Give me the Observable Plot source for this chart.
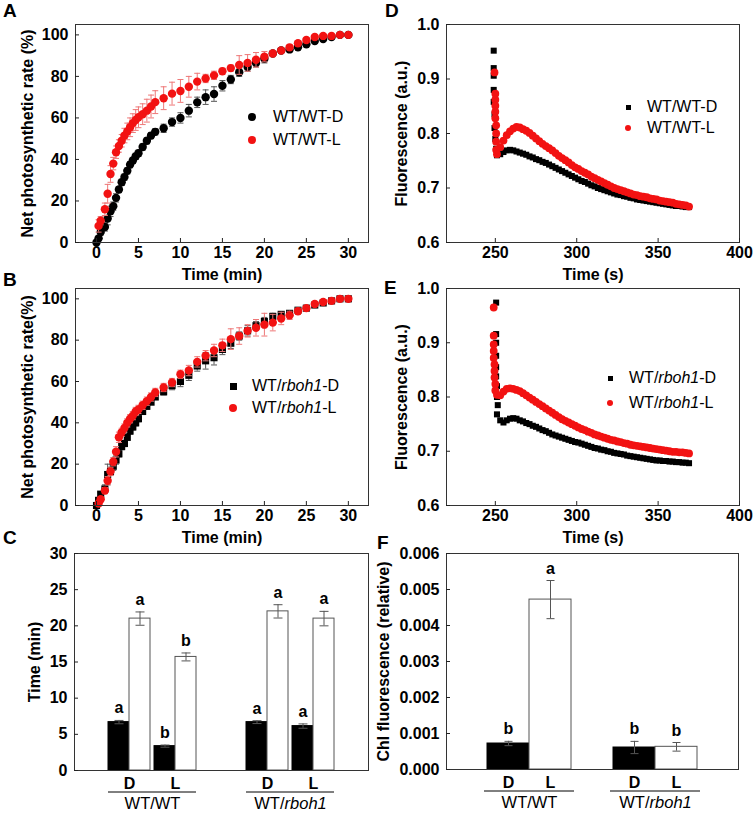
<!DOCTYPE html>
<html><head><meta charset="utf-8">
<script src="https://cdn.jsdelivr.net/npm/d3@7"></script>
<script src="https://cdn.jsdelivr.net/npm/@observablehq/plot@0.6"></script>
<style>
body{margin:0;background:#fff}
#fig{position:relative;width:754px;height:813px;font-family:"Liberation Sans",Arial,sans-serif;color:#000;overflow:hidden;background:#fff}
.panel{position:absolute}
.letter{position:absolute;font-weight:bold;font-size:19px;line-height:1}
.legtxt{position:absolute;font-size:16px;white-space:nowrap;line-height:18px}
.mk{position:absolute;box-sizing:border-box}
</style></head><body><div id="fig"></div><script>
// ---------- DATA ----------
// Panels A, B: time (min)
const timeMin = [0,0.25,0.5,1,1.33,1.67,2,2.33,2.67,3,3.33,3.67,4,4.33,4.67,5,5.5,6,6.5,7,8,9,10,11,12,13,14,15,16,17,18,19,20,21,22,23,24,25,26,27,28,29,30];
const wtwtD =    [0,2,5,7.5,11.5,15,17.5,21.5,25.5,29,31.5,34.5,37.5,39.5,41.5,43,46,49,51.5,53.3,55,58,60,63.5,67.5,70,71.5,75.5,78.5,82,84.5,86.5,88.5,91,92.5,93,94,95.5,97,98,99,100,100];
const wtwtDErr = [0.5,1,1.5,2,3,2.5,2,2,1.5,1.5,1.5,1.5,1.5,1.5,1.5,1.5,1.5,1.5,1.5,1.5,2,2,2.5,3,2.5,3.5,3.5,2.5,2,2,2,2,2,1,1,1,1,1,1,0.8,0.8,0.3,0.3];
const wtwtL =    [null,8,10.5,16,23.5,33,38,43.5,46.5,49,51.5,53.5,55.5,57.5,59,60.3,61.8,63.5,65.5,67.6,69.5,71.7,73,75,77.5,79,80.5,82.5,84,85.5,86.5,88,89.5,91,92.5,94,96,97.5,99,99.5,99.5,100,100];
const wtwtLErr = [0,3,2,3,4.5,4,3,3,3,3,3.5,4,4.5,4.5,5,5,5,5.5,5.5,5.5,5.5,5.5,5.5,5,4,2,2,1.5,1.5,4.5,4,3.5,2.5,1.5,1,1,1,1,1,0.8,0.5,0.3,0.3];
const wtrbD =    [0,2.5,5.5,8,15,16.5,19,22,25,28.5,30,33,36,38,40,42,45.5,48,50,52.5,55,58,60,63,67.5,70,71.5,75.5,78.5,82,84.5,87,89,91.5,92.5,93,94.5,95.5,97,98,99,100,100];
const wtrbDErr = [0.5,1,1,2,5,2,2,2,1.5,1.5,1.5,1.5,1.5,1.5,1.5,1.5,1.5,1.5,1,1,1.5,2,2.5,2.5,2.5,4,3.5,2.5,2.5,2,2.5,2,2,1.5,1,1,1,1,1,0.8,0.5,0.3,0.3];
const wtrbL =    [null,1,3,7.2,12,16.5,21.2,26,33,35.4,37.5,40,42,43.5,45.5,46.5,48.5,50.5,52.5,54.7,57.1,59.5,63.5,65.3,69.5,72.5,75,77.5,80.5,82,84.5,86,87.5,88.5,90.5,92,94,95.5,97.5,98.5,99,100,100];
const wtrbLErr = [0,1,1,1.5,2,2,2,2.5,2.5,2,2,2,2,2,2,2,2,2,2,2,2,2,2,2.5,2.5,2.5,3,3,5,4,3,4,5.5,4,3,2,1.5,1,1,1,0.5,0.3,0.3];

// Panels D, E: time (s)
const fluoTime = [251,253,255,257,259,261,263,265,267,269,271,273,275,277,279,281,283,285,287,289,291,293,295,297,299,301,303,305,307,309,311,313,315,317,319,321,323,325,327,329,331,333,335,337,339,341,343,345,347,349,351,353,355,357,359,361,363,365,367,369];
const dBlack = [0.760,0.762,0.766,0.769,0.770,0.769,0.767,0.765,0.763,0.761,0.758,0.756,0.753,0.751,0.748,0.746,0.743,0.740,0.737,0.734,0.731,0.728,0.725,0.722,0.719,0.716,0.713,0.711,0.708,0.705,0.703,0.700,0.698,0.696,0.694,0.692,0.690,0.688,0.687,0.685,0.684,0.682,0.681,0.679,0.678,0.677,0.676,0.675,0.674,0.673,0.672,0.671,0.670,0.669,0.668,0.667,0.667,0.666,0.665,0.665];
const dRed =   [0.762,0.775,0.787,0.797,0.804,0.809,0.812,0.811,0.808,0.805,0.801,0.796,0.791,0.786,0.781,0.777,0.773,0.769,0.764,0.759,0.755,0.751,0.747,0.742,0.738,0.735,0.731,0.728,0.725,0.721,0.718,0.715,0.712,0.709,0.706,0.703,0.700,0.698,0.696,0.694,0.692,0.690,0.688,0.687,0.685,0.684,0.683,0.681,0.680,0.679,0.677,0.676,0.675,0.674,0.673,0.671,0.670,0.669,0.668,0.666];
const eBlack = [0.768,0.757,0.753,0.757,0.760,0.761,0.760,0.757,0.755,0.752,0.750,0.747,0.745,0.742,0.739,0.737,0.734,0.731,0.729,0.727,0.725,0.723,0.721,0.719,0.717,0.716,0.714,0.712,0.710,0.708,0.706,0.705,0.703,0.702,0.700,0.699,0.697,0.696,0.695,0.694,0.692,0.691,0.690,0.689,0.688,0.687,0.686,0.685,0.684,0.683,0.683,0.682,0.682,0.681,0.681,0.680,0.680,0.679,0.679,0.678];
const eRed =   [0.804,0.803,0.810,0.815,0.816,0.815,0.813,0.811,0.807,0.803,0.799,0.795,0.791,0.787,0.783,0.779,0.775,0.771,0.767,0.763,0.759,0.756,0.753,0.750,0.747,0.744,0.741,0.739,0.736,0.734,0.731,0.729,0.727,0.725,0.723,0.721,0.720,0.718,0.717,0.715,0.714,0.712,0.711,0.710,0.709,0.708,0.707,0.706,0.705,0.704,0.703,0.702,0.701,0.700,0.699,0.699,0.698,0.698,0.697,0.696];
// initial spike (points recorded at light switch)
const dBlackSpikeT = [249,249,249,249,249,249.5,249.5,250,250.5];
const dBlackSpikeV = [0.952,0.920,0.906,0.880,0.858,0.835,0.810,0.790,0.772];
const dRedSpikeT = [249.5,250,250,250,250,250,250.5,250.5,250.5,250.5];
const dRedSpikeV = [0.912,0.873,0.862,0.851,0.840,0.828,0.815,0.800,0.785,0.770];
const eBlackSpikeT = [250.5,250.5,250.5,250.5,250.5,250.5,251,251,251.5];
const eBlackSpikeV = [0.974,0.916,0.900,0.876,0.855,0.838,0.820,0.800,0.785];
const eRedSpikeT = [249,249,249,249,249,249.5,249.5,249.5,250,250];
const eRedSpikeV = [0.965,0.913,0.897,0.885,0.872,0.860,0.848,0.836,0.824,0.812];

// Panels C, F
const genotypes = ["WT/WT", "WT/rboh1"];
const treatments = ["D", "L"];
const t50 =      [6.69, 3.37, 6.69, 6.14];   // WT/WT D, WT/WT L, WT/rboh1 D, WT/rboh1 L
const t50Err =   [0.23, 0.15, 0.20, 0.30];
const t50Sig =   ["a", "b", "a", "a"];
const t90 =      [21.0, 15.7, 22.0, 21.0];
const t90Err =   [0.92, 0.55, 0.92, 1.0];
const t90Sig =   ["a", "b", "a", "a"];
const chl =      [0.000722, 0.00472, 0.000611, 0.00063];
const chlErr =   [0.00006, 0.00053, 0.00017, 0.00012];
const chlSig =   ["b", "a", "b", "b"];

// ticks
const minTicks = [0,5,10,15,20,25,30];
const pctTicks = [0,20,40,60,80,100];
const secTicks = [250,300,350,400];
const fluoTicks = [0.6,0.7,0.8,0.9,1.0];
const tTicks = [0,5,10,15,20,25,30];
const chlTicks = [0,0.001,0.002,0.003,0.004,0.005,0.006];

// ---------- HELPERS ----------
const FONT = "'Liberation Sans', Arial, Helvetica, sans-serif";
const RED = "#f21212";
const fig = document.getElementById("fig");
const capSymbol = {draw(ctx, size) { const w = Math.sqrt(size / Math.PI); ctx.moveTo(-w, 0); ctx.lineTo(w, 0); }};
const baseStyle = {fontFamily: FONT, fontSize: "16px", fontWeight: "bold", overflow: "visible", background: "transparent", color: "#000"};

function place(el, left, top) {
  const d = document.createElement("div");
  d.className = "panel"; d.style.left = left + "px"; d.style.top = top + "px";
  d.appendChild(el); fig.appendChild(d); return el;
}
function errMarks(rows, x, y, e, color, cap, extra = {}) {
  const ok = rows.filter(r => r[y] != null && r[e] > 0);
  return [
    Plot.ruleX(ok, {x, y1: r => r[y] - r[e], y2: r => r[y] + r[e], stroke: color, strokeWidth: 1, ...extra}),
    Plot.dot(ok, {x, y: r => r[y] + r[e], symbol: capSymbol, r: cap, stroke: color, fill: "none", strokeWidth: 1, ...extra}),
    Plot.dot(ok, {x, y: r => r[y] - r[e], symbol: capSymbol, r: cap, stroke: color, fill: "none", strokeWidth: 1, ...extra})
  ];
}
function axesY(ticks, fmt, label, labelOffset) {
  return Plot.axisY(ticks, {anchor: "left", tickSize: -4, tickPadding: 11, tickFormat: fmt, label, labelAnchor: "center", labelArrow: "none", labelOffset, stroke: "#222"});
}
function axesX(ticks, fmt, label, labelOffset) {
  return Plot.axisX(ticks, {anchor: "bottom", tickSize: -4, tickPadding: 8, tickFormat: fmt, label, labelAnchor: "center", labelArrow: "none", labelOffset, stroke: "#222"});
}
function italicize(root) {
  const ns = "http://www.w3.org/2000/svg";
  root.querySelectorAll("text, tspan").forEach(el => {
    if (el.children.length) return;
    const s = el.textContent, i = s.indexOf("rboh1");
    if (i < 0) return;
    el.textContent = "";
    [s.slice(0, i), "rboh1", s.slice(i + 5)].forEach((p, k) => {
      if (!p) return;
      const t = document.createElementNS(ns, "tspan");
      t.textContent = p;
      if (k === 1) t.setAttribute("font-style", "italic");
      el.appendChild(t);
    });
  });
}
function letter(txt, left, top) {
  const d = document.createElement("div"); d.className = "letter"; d.textContent = txt;
  d.style.left = left + "px"; d.style.top = top + "px"; fig.appendChild(d);
}
function legend(items) {
  for (const it of items) {
    const m = document.createElement("div"); m.className = "mk";
    m.style.width = it.size + "px"; m.style.height = it.size + "px";
    m.style.left = (it.cx - it.size / 2) + "px"; m.style.top = (it.cy - it.size / 2) + "px";
    m.style.background = it.color; if (it.shape === "circle") m.style.borderRadius = "50%";
    fig.appendChild(m);
    const t = document.createElement("div"); t.className = "legtxt"; t.innerHTML = it.html;
    t.style.left = it.tx + "px"; t.style.top = (it.cy - 9) + "px"; fig.appendChild(t);
  }
}

// ---------- PANELS A, B ----------
function rows3(t, a, ae, b, be) { return t.map((x, i) => ({t: x, a: a[i], ae: ae[i], b: b[i], be: be[i]})); }
function kinetics(rows, blackSymbol, blackR, top, marginTop, marginBottom) {
  return Plot.plot({
    width: 377, height: 286, marginTop, marginBottom, marginLeft: 75, marginRight: 9,
    style: baseStyle,
    x: {domain: [-2.5, 32.4]}, y: {domain: [0, 105]},
    marks: [
      ...errMarks(rows, "t", "a", "ae", "#555", 3),
      Plot.dot(rows, {x: "t", y: "a", r: blackR, symbol: blackSymbol, fill: "#000", stroke: "none"}),
      ...errMarks(rows, "t", "b", "be", "#ee7777", 3),
      Plot.dot(rows.filter(r => r.b != null), {x: "t", y: "b", r: 4.2, fill: RED, stroke: "none"}),
      Plot.frame({stroke: "#333"}),
      axesX(minTicks, d => d, "Time (min)", 37),
      axesY(pctTicks, d => d, top, 54)
    ]
  });
}
place(kinetics(rows3(timeMin, wtwtD, wtwtDErr, wtwtL, wtwtLErr), "circle", 4.2, "Net photosynthetic rate (%)", 24, 44), 0, 0);
place(kinetics(rows3(timeMin, wtrbD, wtrbDErr, wtrbL, wtrbLErr), "square", 4, "Net photosynthetic rate(%)", 26, 43), 0, 262);

// ---------- PANELS D, E ----------
function fluo(blackT, blackV, redT, redV, spBT, spBV, spRT, spRV, marginTop, marginBottom) {
  const bl = blackT.map((t, i) => ({t, v: blackV[i]})).concat(spBT.map((t, i) => ({t, v: spBV[i]})));
  const rd = redT.map((t, i) => ({t, v: redV[i]})).concat(spRT.map((t, i) => ({t, v: spRV[i]})));
  return Plot.plot({
    width: 377, height: 286, marginTop, marginBottom, marginLeft: 69, marginRight: 15,
    style: baseStyle,
    x: {domain: [220, 400]}, y: {domain: [0.6, 1.0]},
    marks: [
      Plot.dot(bl, {x: "t", y: "v", symbol: "square", r: 3.4, fill: "#000", stroke: "none"}),
      Plot.dot(rd, {x: "t", y: "v", r: 3.9, fill: RED, stroke: "none"}),
      Plot.frame({stroke: "#333"}),
      axesX(secTicks, d => d, "Time (s)", 37),
      axesY(fluoTicks, d3.format(".1f"), "Fluorescence (a.u.)", 51)
    ]
  });
}
place(fluo(fluoTime, dBlack, fluoTime, dRed, dBlackSpikeT, dBlackSpikeV, dRedSpikeT, dRedSpikeV, 24, 44), 377, 0);
place(fluo(fluoTime, eBlack, fluoTime, eRed, eBlackSpikeT, eBlackSpikeV, eRedSpikeT, eRedSpikeV, 26, 43), 377, 262);

// ---------- PANELS C, F ----------
const GAP = " ";
const slots = [genotypes[0] + "|" + treatments[0], genotypes[0] + "|" + treatments[1], GAP, genotypes[1] + "|" + treatments[0], genotypes[1] + "|" + treatments[1]];
const barSlots = slots.filter(s => s !== GAP);
const cRows = barSlots.map((s, i) => ({slot: s, t50: t50[i], t50e: t50Err[i], t50s: t50Sig[i], t90: t90[i], t90e: t90Err[i], t90s: t90Sig[i]}));
const fRows = barSlots.map((s, i) => ({slot: s, trt: s.split("|")[1], v: chl[i], e: chlErr[i], s: chlSig[i]}));

function groupMarks(step, extend) {
  return [
    Plot.ruleY(genotypes, {x1: g => g + "|D", x2: g => g + "|L", y: () => 0, dy: 21.5, stroke: "#000", strokeWidth: 1, insetLeft: -extend, insetRight: -extend}),
    Plot.text(genotypes, {x: g => g + "|D", text: g => g, frameAnchor: "bottom", dx: step / 2, dy: 27, lineAnchor: "top", fontSize: 16.5, fontWeight: "normal"})
  ];
}

const cSvg = Plot.plot({
  width: 377, height: 283, marginTop: 23, marginBottom: 43, marginLeft: 74, marginRight: 9,
  style: baseStyle,
  x: {type: "band", domain: slots, paddingInner: 0.087, paddingOuter: 0.739},
  y: {domain: [0, 30]},
  marks: [
    Plot.barY(cRows, {x: "slot", y: "t50", fill: "#000", stroke: "#000", insetRight: 21}),
    Plot.barY(cRows, {x: "slot", y: "t90", fill: "#fff", stroke: "#555", insetLeft: 21}),
    ...errMarks(cRows, "slot", "t50", "t50e", "#555", 4.5, {dx: -10.5}),
    ...errMarks(cRows, "slot", "t90", "t90e", "#555", 4.5, {dx: 10.5}),
    Plot.text(cRows, {x: "slot", y: r => r.t50 + r.t50e, text: "t50s", dx: -10.5, dy: -7, lineAnchor: "bottom", fontSize: 16}),
    Plot.text(cRows, {x: "slot", y: r => r.t90 + r.t90e, text: "t90s", dx: 10.5, dy: -7, lineAnchor: "bottom", fontSize: 16}),
    Plot.frame({stroke: "#333"}),
    Plot.axisX(barSlots, {anchor: "bottom", tickSize: 0, tickPadding: 7, tickFormat: s => s.split("|")[1], label: null}),
    axesY(tTicks, d => d, "Time (min)", 46),
    ...groupMarks(46, 0)
  ]
});
italicize(cSvg);
place(cSvg, 0, 530);

const fSvg = Plot.plot({
  width: 377, height: 283, marginTop: 23, marginBottom: 44, marginLeft: 69, marginRight: 16,
  style: baseStyle,
  x: {type: "band", domain: slots, paddingInner: 0, paddingOuter: 0.976},
  y: {domain: [0, 0.006]},
  marks: [
    Plot.barY(fRows.filter(r => r.trt === "D"), {x: "slot", y: "v", fill: "#000", stroke: "#000"}),
    Plot.barY(fRows.filter(r => r.trt === "L"), {x: "slot", y: "v", fill: "#fff", stroke: "#555"}),
    ...errMarks(fRows, "slot", "v", "e", "#555", 4),
    Plot.text(fRows, {x: "slot", y: r => r.v + r.e, text: "s", dy: -7, lineAnchor: "bottom", fontSize: 16}),
    Plot.frame({stroke: "#333"}),
    Plot.axisX(barSlots, {anchor: "bottom", tickSize: 0, tickPadding: 7, tickFormat: s => s.split("|")[1], label: null}),
    axesY(chlTicks, d3.format(".3f"), "Chl fluorescence (relative)", 69),
    ...groupMarks(42, 3)
  ]
});
italicize(fSvg);
place(fSvg, 377, 530);

// ---------- LETTERS & LEGENDS ----------
letter("A", 3, 1); letter("B", 3, 270); letter("C", 3, 528);
letter("D", 385, 1); letter("E", 384, 278); letter("F", 377, 533);
legend([
  {cx: 252, cy: 117, shape: "circle", size: 8, color: "#000", tx: 273, html: "WT/WT-D"},
  {cx: 252, cy: 140, shape: "circle", size: 8, color: RED, tx: 273, html: "WT/WT-L"},
  {cx: 233, cy: 386, shape: "square", size: 7, color: "#000", tx: 252, html: "WT/<i>rboh1</i>-D"},
  {cx: 233, cy: 408, shape: "circle", size: 8, color: RED, tx: 252, html: "WT/<i>rboh1</i>-L"},
  {cx: 628, cy: 107, shape: "square", size: 5, color: "#000", tx: 647, html: "WT/WT-D"},
  {cx: 628, cy: 128, shape: "circle", size: 6, color: RED, tx: 647, html: "WT/WT-L"},
  {cx: 610, cy: 378, shape: "square", size: 5, color: "#000", tx: 629, html: "WT/<i>rboh1</i>-D"},
  {cx: 610, cy: 403, shape: "circle", size: 6, color: RED, tx: 629, html: "WT/<i>rboh1</i>-L"}
]);
</script></body></html>
